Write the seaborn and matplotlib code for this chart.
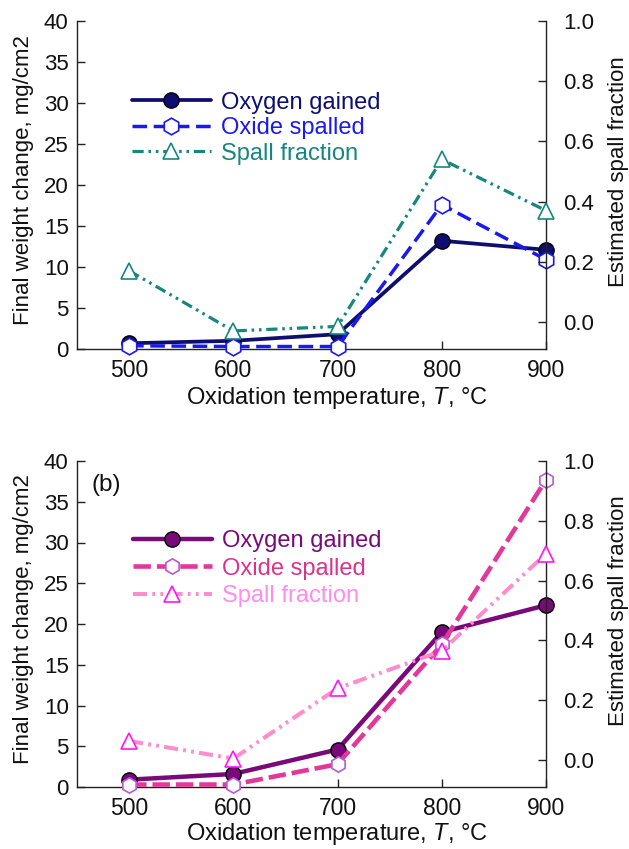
import matplotlib
matplotlib.use("Agg")
import matplotlib.pyplot as plt
import seaborn as sns
import pandas as pd

# ---------------- data ----------------
temps = [500, 600, 700, 800, 900]
series_labels = ["Oxygen gained", "Oxide spalled", "Spall fraction"]

a_oxygen = [0.7, 1.0, 1.8, 13.2, 12.1]
a_spalled = [0.4, 0.3, 0.3, 17.6, 10.9]
a_fraction = [0.17, -0.03, -0.015, 0.54, 0.37]

b_oxygen = [0.9, 1.6, 4.6, 19.0, 22.3]
b_spalled = [0.3, 0.3, 2.8, 17.5, 37.7]
b_fraction = [0.064, 0.005, 0.24, 0.365, 0.69]

x_ticks = [500, 600, 700, 800, 900]
left_ticks = [0, 5, 10, 15, 20, 25, 30, 35, 40]
right_ticks = [0.0, 0.2, 0.4, 0.6, 0.8, 1.0]
right_labels = ["0.0", "0.2", "0.4", "0.6", "0.8", "1.0"]

xlabel = "Oxidation temperature, $\\mathit{T}$, °C"
ylabel_left = "Final weight change, mg/cm2"
ylabel_right = "Estimated spall fraction"

# ---------------- style ----------------
sns.set_theme(style="ticks")
plt.rcParams["font.family"] = ["Liberation Sans", "DejaVu Sans"]
plt.rcParams["mathtext.fontset"] = "custom"
plt.rcParams["mathtext.it"] = "Liberation Sans:italic"
plt.rcParams["mathtext.rm"] = "Liberation Sans"

XTICK_FS = 16.5
YTICK_FS = 16
YLABEL_FS = 16
XLABEL_FS = 17
LEG_FS = 17

fig = plt.figure(figsize=(6.29, 8.49), dpi=100)

panels = [
    dict(rect=[77/629, 1-349/849, 469/629, 328/849],
         oxygen=a_oxygen, spalled=a_spalled, fraction=a_fraction,
         c_ox="#0e0e70", c_ox_face="#0e0e70",
         c_sp="#1919f0", c_sp_edge="#1919f0",
         c_fr="#17867f", c_fr_edge="#17867f",
         txt=["#0e0e70", "#1919f0", "#17867f"],
         lw_ox=2.7, lw_sp=2.5, lw_fr=2.3,
         dash_sp=(0, (4.2, 1.9)), dash_fr=(0, (3.5, 1.5, 0.8, 1.5, 0.8, 1.5)),
         ms_h=12, leg=(0.117, 0.785), lsp=0.15, xl_y=-0.111, tag=None),
    dict(rect=[77/629, 1-787/849, 469/629, 326/849],
         oxygen=b_oxygen, spalled=b_spalled, fraction=b_fraction,
         c_ox="#7a0a7a", c_ox_face="#7a0a7a",
         c_sp="#e2389a", c_sp_edge="#b85ad6",
         c_fr="#ff8ccc", c_fr_edge="#ff14ff",
         txt=["#7a0a7a", "#d9338c", "#ff8cf0"],
         lw_ox=3.2, lw_sp=3.3, lw_fr=2.9,
         dash_sp=(0, (3.8, 1.3)), dash_fr=(0, (3.5, 1.3, 0.7, 1.3, 0.7, 1.3)),
         ms_h=11, leg=(0.119, 0.787), lsp=0.22, xl_y=-0.104, tag="(b)"),
]

for p in panels:
    ax = fig.add_axes(p["rect"])
    ax2 = ax.twinx()
    df = pd.DataFrame({"T": temps, "oxygen": p["oxygen"],
                       "spalled": p["spalled"], "fraction": p["fraction"]})

    sns.lineplot(data=df, x="T", y="oxygen", ax=ax, color=p["c_ox"],
                 lw=p["lw_ox"], marker="o", markersize=11,
                 markerfacecolor=p["c_ox_face"], markeredgecolor="black",
                 markeredgewidth=1.0, clip_on=False, errorbar=None,
                 label=series_labels[0], zorder=3)
    sns.lineplot(data=df, x="T", y="spalled", ax=ax, color=p["c_sp"],
                 lw=p["lw_sp"], linestyle=p["dash_sp"], marker="h",
                 markersize=p["ms_h"], markerfacecolor="white",
                 markeredgecolor=p["c_sp_edge"], markeredgewidth=1.2,
                 clip_on=False, errorbar=None, label=series_labels[1], zorder=4)
    sns.lineplot(data=df, x="T", y="fraction", ax=ax2, color=p["c_fr"],
                 lw=p["lw_fr"], linestyle=p["dash_fr"], marker="^",
                 markersize=11.5, markerfacecolor="white",
                 markeredgecolor=p["c_fr_edge"], markeredgewidth=1.2,
                 clip_on=False, errorbar=None, label=series_labels[2], zorder=3)

    ax.set_xlim(450, 900)
    ax.set_ylim(0, 40)
    ax2.set_ylim(-0.09, 1.0)
    ax.set_xticks(x_ticks)
    ax.set_xticklabels([str(t) for t in x_ticks])
    ax.set_yticks(left_ticks)
    ax.set_yticklabels([str(t) for t in left_ticks])
    ax2.set_yticks(right_ticks)
    ax2.set_yticklabels(right_labels)

    for a in (ax, ax2):
        a.spines["top"].set_visible(False)
        for s in a.spines.values():
            s.set_linewidth(1.0)
            s.set_color("#222222")
    ax.spines["right"].set_visible(False)
    ax2.spines["left"].set_visible(False)
    ax2.spines["bottom"].set_visible(False)

    ax.tick_params(axis="x", direction="in", length=6, width=1.0,
                   labelsize=XTICK_FS, colors="#222222", labelcolor="#111111",
                   pad=7.5)
    ax.tick_params(axis="y", direction="in", length=6, width=1.0,
                   labelsize=YTICK_FS, colors="#222222", labelcolor="#111111",
                   pad=6)
    ax2.tick_params(axis="y", direction="in", length=6, width=1.0,
                    labelsize=YTICK_FS, colors="#222222", labelcolor="#111111",
                    pad=12.5)

    ax.set_xlabel(xlabel, fontsize=XLABEL_FS, color="#111111")
    ax.xaxis.set_label_coords(0.554, p["xl_y"])
    ax.set_ylabel(ylabel_left, fontsize=YLABEL_FS, color="#111111")
    ax.yaxis.set_label_coords(-0.092, 0.515)
    ax2.set_ylabel(ylabel_right, fontsize=YLABEL_FS, color="#111111",
                   rotation=90)
    ax2.yaxis.set_label_coords(1.132, 0.54)

    if ax.get_legend():
        ax.get_legend().remove()
    if ax2.get_legend():
        ax2.get_legend().remove()

    h1, l1 = ax.get_legend_handles_labels()
    h2, l2 = ax2.get_legend_handles_labels()
    leg = ax2.legend(h1 + h2, l1 + l2, loc="upper left",
                     bbox_to_anchor=p["leg"], frameon=False, fontsize=LEG_FS,
                     handlelength=3.35, handletextpad=0.42,
                     labelspacing=p["lsp"], borderpad=0, borderaxespad=0,
                     numpoints=1)
    for t, c in zip(leg.get_texts(), p["txt"]):
        t.set_color(c)

    if p["tag"]:
        ax.text(0.03, 0.926, p["tag"], transform=ax.transAxes,
                fontsize=17.5, va="center", ha="left", color="#111111")

fig.savefig("out.png", dpi=100)
